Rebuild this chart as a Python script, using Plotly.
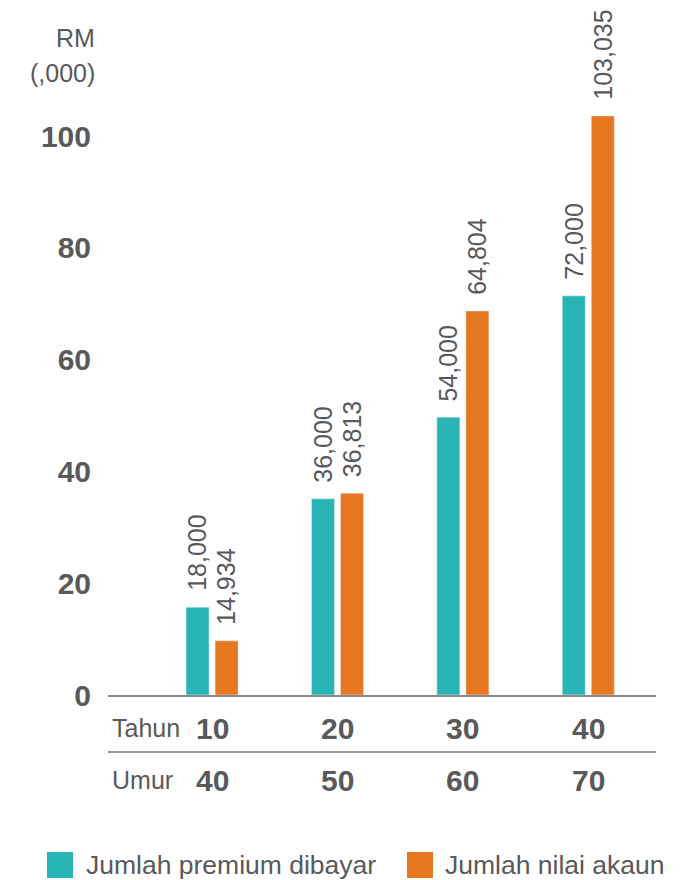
import plotly.graph_objects as go

# ---- data ----
tahun = ["10", "20", "30", "40"]
umur = ["40", "50", "60", "70"]
premium_heights = [15.7, 35.1, 49.7, 71.4]      # bar heights as drawn (RM '000)
nilai_heights = [9.7, 36.1, 68.7, 103.6]
premium_labels = ["18,000", "36,000", "54,000", "72,000"]
nilai_labels = ["14,934", "36,813", "64,804", "103,035"]
y_ticks = [0, 20, 40, 60, 80, 100]
series_names = ["Jumlah premium dibayar", "Jumlah nilai akaun"]

TEAL = "#29B5B6"
ORANGE = "#E87722"
TXT = "#58595B"
FONT = "Liberation Sans, Arial, Helvetica, sans-serif"

OFF = 8  # page body margin
W, H = 684 - OFF, 880 - OFF
# plot area in window pixels: x 108..656, y 8..695
L, R = 108 - OFF, 684 - 656
T = 0
B = 880 - 695
PW, PH = W - L - R, H - T - B

def px(x):
    return (x - OFF - L) / PW

def py(y):
    return (H - B - (y - OFF)) / PH

xs = list(range(len(tahun)))
bw = 0.1835
dc = 0.1158

fig = go.Figure()
fig.add_trace(go.Bar(x=xs, y=premium_heights, name=series_names[0], marker_color=TEAL,
                     width=bw, offset=-dc - bw / 2, showlegend=False))
fig.add_trace(go.Bar(x=xs, y=nilai_heights, name=series_names[1], marker_color=ORANGE,
                     width=bw, offset=dc - bw / 2, showlegend=False))

ann = []
for i in xs:
    ann.append(dict(x=i - dc, y=premium_heights[i], xref="x", yref="y", text=premium_labels[i],
                    textangle=-90, yanchor="bottom", xanchor="center", yshift=14, showarrow=False,
                    font=dict(family=FONT, size=25, color=TXT)))
    ann.append(dict(x=i + dc, y=nilai_heights[i], xref="x", yref="y", text=nilai_labels[i],
                    textangle=-90, yanchor="bottom", xanchor="center", yshift=14, showarrow=False,
                    font=dict(family=FONT, size=25, color=TXT)))
    ann.append(dict(x=i, y=py(728), xref="x", yref="paper", text="<b>%s</b>" % tahun[i],
                    showarrow=False, xanchor="center", yanchor="middle",
                    font=dict(family=FONT, size=30, color=TXT)))
    ann.append(dict(x=i, y=py(780), xref="x", yref="paper", text="<b>%s</b>" % umur[i],
                    showarrow=False, xanchor="center", yanchor="middle",
                    font=dict(family=FONT, size=30, color=TXT)))

ann += [
    dict(x=px(110), y=py(728), xref="paper", yref="paper", text="Tahun", showarrow=False,
         xanchor="left", yanchor="middle", font=dict(family=FONT, size=25, color=TXT)),
    dict(x=px(110), y=py(780), xref="paper", yref="paper", text="Umur", showarrow=False,
         xanchor="left", yanchor="middle", font=dict(family=FONT, size=25, color=TXT)),
    dict(x=px(97), y=py(38), xref="paper", yref="paper", text="RM", showarrow=False,
         xanchor="right", yanchor="middle", font=dict(family=FONT, size=25, color=TXT)),
    dict(x=px(97), y=py(73), xref="paper", yref="paper", text="(,000)", showarrow=False,
         xanchor="right", yanchor="middle", font=dict(family=FONT, size=25, color=TXT)),
    dict(x=px(84), y=py(865), xref="paper", yref="paper", text=series_names[0], showarrow=False,
         xanchor="left", yanchor="middle", font=dict(family=FONT, size=26.5, color=TXT)),
    dict(x=px(443), y=py(865), xref="paper", yref="paper", text=series_names[1], showarrow=False,
         xanchor="left", yanchor="middle", font=dict(family=FONT, size=26.5, color=TXT)),
]

shapes = [
    dict(type="line", xref="paper", yref="paper", x0=0, x1=1, y0=py(752), y1=py(752),
         line=dict(color="#9a9a9a", width=2)),
    dict(type="rect", xref="paper", yref="paper", x0=px(47), x1=px(73), y0=py(878), y1=py(852),
         fillcolor=TEAL, line=dict(width=0)),
    dict(type="rect", xref="paper", yref="paper", x0=px(407), x1=px(433), y0=py(878), y1=py(852),
         fillcolor=ORANGE, line=dict(width=0)),
]

fig.update_layout(
    width=W, height=H,
    margin=dict(l=L, r=R, t=T, b=B, pad=0),
    plot_bgcolor="white", paper_bgcolor="white",
    barmode="overlay",
    showlegend=False,
    annotations=ann,
    shapes=shapes,
    font=dict(family=FONT, color=TXT),
)
fig.update_xaxes(range=[-0.83, 3.54], showgrid=False, zeroline=False, showticklabels=False,
                 showline=True, linecolor="#8a8a8a", linewidth=2, ticks="", fixedrange=True)
fig.update_yaxes(range=[0, PH / 5.59], showgrid=False, zeroline=False, showline=False,
                 tickvals=y_ticks, ticktext=["<b>%d</b>" % v for v in y_ticks],
                 tickfont=dict(family=FONT, size=30, color=TXT), ticks="",
                 ticklabelstandoff=16, fixedrange=True)

fig.write_html("out.html")
